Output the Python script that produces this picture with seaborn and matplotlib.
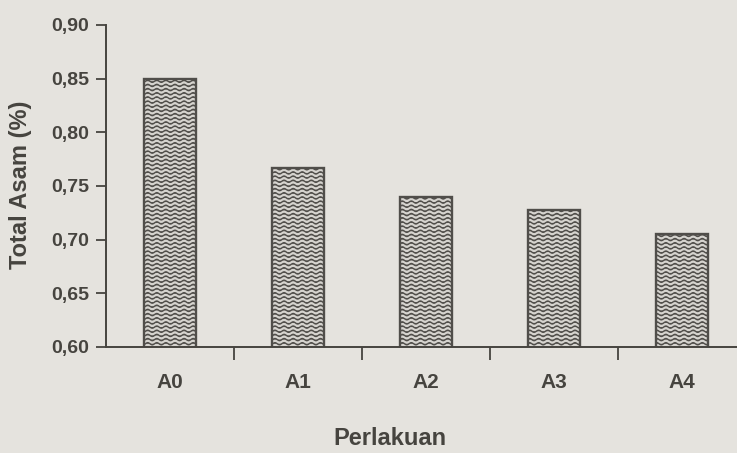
import numpy as np
import pandas as pd
import seaborn as sns
import matplotlib.pyplot as plt
import matplotlib.hatch as mhatch
from matplotlib.path import Path

# data
perlakuan = ["A0", "A1", "A2", "A3", "A4"]
total_asam = [0.850, 0.767, 0.740, 0.728, 0.705]
y_ticks = [0.60, 0.65, 0.70, 0.75, 0.80, 0.85, 0.90]
y_ticklabels = ["0,60", "0,65", "0,70", "0,75", "0,80", "0,85", "0,90"]


# wavy fill like the scanned original: swap the '-' hatch for a wave
class WaveHatch(mhatch.HatchPatternBase):
    n_pts = 121

    def __init__(self, hatch, density):
        self.num_lines = int(hatch.count('-') * density)
        self.num_vertices = (self.num_lines + 2) * self.n_pts if self.num_lines else 0

    def set_vertices_and_codes(self, vertices, codes):
        xs = np.linspace(0.0, 1.0, self.n_pts)
        wave = 0.011 * np.sin(2 * np.pi * 11 * xs)
        step = 1.0 / self.num_lines
        for k, i in enumerate(range(-1, self.num_lines + 1)):
            y0 = (i + 0.5) * step
            sl = slice(k * self.n_pts, (k + 1) * self.n_pts)
            vertices[sl, 0] = xs
            vertices[sl, 1] = y0 + wave
            codes[sl] = Path.LINETO
            codes[k * self.n_pts] = Path.MOVETO


mhatch._hatch_types[0] = WaveHatch

sns.set_style("white")
plt.rcParams['font.family'] = ['Liberation Sans', 'DejaVu Sans']
plt.rcParams['hatch.linewidth'] = 1.0

bg = "#e5e3de"
ink = "#46443f"

df = pd.DataFrame({"Perlakuan": perlakuan, "Total Asam": total_asam})

fig = plt.figure(figsize=(7.37, 4.53), dpi=100, facecolor=bg)
ax = fig.add_axes([106 / 737, 106 / 453, 640 / 737, 322 / 453])
ax.set_facecolor(bg)

sns.barplot(data=df, x="Perlakuan", y="Total Asam", ax=ax, width=0.41,
            color="#d6d4cf", saturation=1, edgecolor="#504e4a",
            linewidth=1.7, hatch="----")

ax.set_ylim(0.60, 0.90)
ax.set_xlim(-0.5, 4.5)
ax.set_yticks(y_ticks)
ax.set_yticklabels(y_ticklabels)

ax.set_xticks(np.arange(len(perlakuan)) + 0.5, minor=True)
ax.tick_params(axis="x", which="major", length=0, pad=19,
               labelsize=15, labelcolor=ink)
ax.tick_params(axis="x", which="minor", bottom=True, length=9, width=1.3,
               color=ink, direction="out")
ax.tick_params(axis="y", length=7, width=1.3, color=ink, pad=5,
               labelsize=14, labelcolor=ink, direction="out", left=True)
for lab in ax.get_xticklabels() + ax.get_yticklabels():
    lab.set_fontweight("bold")

for side in ["top", "right"]:
    ax.spines[side].set_visible(False)
for side in ["left", "bottom"]:
    ax.spines[side].set_color(ink)
    ax.spines[side].set_linewidth(1.4)

ax.set_xlabel("Perlakuan", fontsize=17, fontweight="bold", color=ink)
ax.xaxis.set_label_coords((390 - 106) / 640, -80 / 322)
ax.set_ylabel("Total Asam (%)", fontsize=17, fontweight="bold", color=ink)
ax.yaxis.set_label_coords(-(106 - 32) / 640, (347 - 185) / 322)

fig.savefig("out.png", dpi=100, facecolor=bg)
